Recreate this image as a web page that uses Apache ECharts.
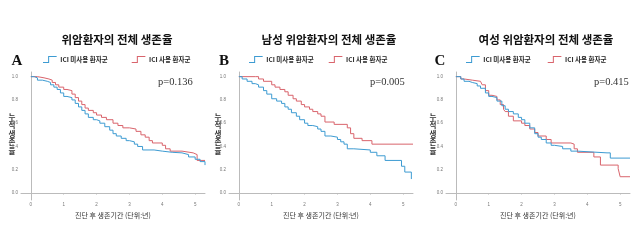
<!DOCTYPE html>
<html>
<head>
<meta charset="utf-8">
<script src="https://cdn.jsdelivr.net/npm/echarts@6/dist/echarts.min.js"></script>
<style>
html, body { margin: 0; padding: 0; background: #fff; }
#main { width: 640px; height: 244px; }
</style>
</head>
<body>
<div id="main"></div>
<script>
// 생존곡선 값 [년, 생존율] - 그림에서 읽은 값
var aNoIci = [[0,1.0],[0.1,0.99],[0.2,0.97],[0.35,0.96],[0.5,0.95],[0.6,0.93],[0.7,0.91],[0.8,0.89],[0.9,0.86],[1.0,0.83],[1.1,0.82],[1.25,0.80],[1.35,0.77],[1.45,0.74],[1.55,0.71],[1.65,0.68],[1.75,0.65],[1.9,0.63],[2.0,0.62],[2.1,0.60],[2.25,0.57],[2.4,0.54],[2.5,0.51],[2.6,0.49],[2.75,0.47],[2.9,0.45],[3.0,0.44],[3.15,0.42],[3.25,0.40],[3.4,0.37],[3.75,0.36],[4.0,0.35],[4.3,0.345],[4.6,0.33],[4.8,0.31],[5.0,0.29],[5.15,0.27],[5.3,0.24]];
var aIci   = [[0,1.0],[0.2,0.99],[0.4,0.98],[0.55,0.97],[0.65,0.95],[0.75,0.93],[0.85,0.91],[1.0,0.89],[1.1,0.88],[1.25,0.85],[1.35,0.82],[1.45,0.79],[1.55,0.76],[1.65,0.73],[1.75,0.71],[1.9,0.69],[2.0,0.67],[2.15,0.65],[2.3,0.63],[2.5,0.60],[2.65,0.58],[2.8,0.56],[3.0,0.55],[3.2,0.53],[3.35,0.50],[3.48,0.48],[3.6,0.45],[3.7,0.43],[4.0,0.41],[4.1,0.38],[4.24,0.36],[4.6,0.345],[4.94,0.33],[5.06,0.28],[5.3,0.28]];

var bNoIci = [[0,1.0],[0.1,0.98],[0.25,0.96],[0.4,0.94],[0.5,0.93],[0.6,0.91],[0.75,0.88],[0.85,0.85],[1.0,0.81],[1.15,0.79],[1.3,0.77],[1.4,0.74],[1.5,0.72],[1.6,0.69],[1.75,0.66],[1.85,0.63],[2.0,0.60],[2.1,0.58],[2.25,0.57],[2.4,0.55],[2.5,0.53],[2.62,0.49],[2.8,0.48],[3.0,0.46],[3.1,0.44],[3.2,0.42],[3.3,0.38],[3.5,0.37],[4.0,0.35],[4.2,0.32],[4.45,0.28],[4.95,0.23],[5.05,0.18],[5.25,0.12]];
var bIci   = [[0,1.0],[0.5,1.0],[0.6,0.98],[0.75,0.96],[1.0,0.93],[1.1,0.91],[1.25,0.89],[1.4,0.87],[1.5,0.84],[1.65,0.81],[1.75,0.79],[1.9,0.76],[2.0,0.74],[2.15,0.72],[2.25,0.70],[2.4,0.68],[2.5,0.66],[2.62,0.61],[2.9,0.59],[3.3,0.56],[3.4,0.51],[3.5,0.47],[3.75,0.45],[4.05,0.42],[5.3,0.42]];

var cNoIci = [[0,1.0],[0.15,0.98],[0.25,0.96],[0.4,0.95],[0.5,0.94],[0.65,0.92],[0.75,0.90],[0.9,0.86],[1.0,0.83],[1.1,0.82],[1.25,0.79],[1.4,0.75],[1.5,0.72],[1.6,0.70],[1.75,0.68],[1.9,0.65],[2.0,0.63],[2.1,0.60],[2.25,0.56],[2.4,0.51],[2.5,0.48],[2.6,0.46],[2.75,0.43],[2.9,0.41],[3.0,0.40],[3.25,0.38],[3.5,0.36],[3.7,0.345],[4.6,0.345],[4.7,0.30],[5.3,0.30]];
var cIci   = [[0,1.0],[0.15,0.98],[0.25,0.97],[0.5,0.96],[0.75,0.96],[0.8,0.93],[0.9,0.88],[1.0,0.84],[1.1,0.83],[1.25,0.80],[1.35,0.76],[1.45,0.72],[1.5,0.70],[1.6,0.66],[1.75,0.62],[2.0,0.60],[2.1,0.58],[2.25,0.55],[2.4,0.52],[2.5,0.49],[2.75,0.46],[2.9,0.43],[3.5,0.42],[3.6,0.38],[3.7,0.35],[4.2,0.31],[4.4,0.24],[4.94,0.21],[5.0,0.14],[5.3,0.14]];

var xTicks = [0, 1, 2, 3, 4, 5];
var yTicks = [0, 0.2, 0.4, 0.6, 0.8, 1.0];
var titles = ['위암환자의 전체 생존율', '남성 위암환자의 전체 생존율', '여성 위암환자의 전체 생존율'];
var letters = ['A', 'B', 'C'];
var pValues = ['p=0.136', 'p=0.005', 'p=0.415'];
var nameNo = 'ICI 미사용 환자군';
var nameYes = 'ICI 사용 환자군';
var yTitle = '누\n적\n생\n존\n율';

var BLUE = '#3d9bd2';
var RED = '#d9646c';
var lefts = [21, 229, 446];
var titleX = [117, 329, 546];
var letterX = [17, 224, 440];
var pX = [158, 370, 594];
var legendX = [43, 249, 466];
var legendGap = [24, 15, 17];
var yTitleX = [12, 218, 433];

var stepIcon = 'path://M0,7L6,7L6,0L16,0L16,1.2L7.2,1.2L7.2,8.2L0,8.2Z';

var grids = [], xAxes = [], yAxes = [], series = [], legends = [], graphics = [];
var curves = [[aNoIci, aIci], [bNoIci, bIci], [cNoIci, cIci]];

for (var i = 0; i < 3; i++) {
  grids.push({ left: lefts[i], top: 72, width: 184, height: 128 });
  xAxes.push({
    gridIndex: i, type: 'value', min: -0.3, max: 5.3,
    name: '진단 후 생존기간 (단위:년)', nameLocation: 'middle', nameGap: 9,
    nameTextStyle: { fontSize: 7, color: '#333', fontFamily: 'Noto Sans CJK KR' },
    axisLine: { lineStyle: { color: '#bbb' } },
    axisTick: { show: true, length: 1.5, customValues: xTicks, lineStyle: { color: '#bbb' } },
    axisLabel: { customValues: xTicks, fontSize: 4.5, color: '#777', margin: 2 },
    splitLine: { show: false }
  });
  yAxes.push({
    gridIndex: i, type: 'value', min: -0.06, max: 1.04,
    axisLine: { show: true, lineStyle: { color: '#bbb' } },
    axisTick: { show: false },
    axisLabel: {
      customValues: yTicks, fontSize: 4.5, color: '#777', margin: 3,
      formatter: function (v) { return v.toFixed(1); }
    },
    splitLine: { show: false }
  });
  series.push({
    name: nameNo, type: 'line', step: 'end', xAxisIndex: i, yAxisIndex: i,
    data: curves[i][0], showSymbol: false, color: BLUE,
    lineStyle: { width: 1, color: BLUE }, z: 3
  });
  series.push({
    name: nameYes, type: 'line', step: 'end', xAxisIndex: i, yAxisIndex: i,
    data: curves[i][1], showSymbol: false, color: RED,
    lineStyle: { width: 1, color: RED }, z: 2
  });
  legends.push({
    left: legendX[i], top: 56, padding: 0, itemGap: legendGap[i],
    itemWidth: 15, itemHeight: 7, icon: stepIcon,
    data: [nameNo, nameYes], selectedMode: false,
    textStyle: { fontSize: 6.5, fontWeight: 'bold', color: '#222', fontFamily: 'Noto Sans CJK KR', padding: [0, 0, 0, -2] }
  });
  graphics.push({
    type: 'text', x: titleX[i], y: 40,
    style: { text: titles[i], fontSize: 11.5, fontWeight: 'bold', fill: '#111', fontFamily: 'Noto Sans CJK KR', align: 'center', verticalAlign: 'middle' }
  });
  graphics.push({
    type: 'text', x: letterX[i], y: 61,
    style: { text: letters[i], fontSize: 15, fontWeight: 'bold', fill: '#111', fontFamily: 'Liberation Serif', align: 'center', verticalAlign: 'middle' }
  });
  graphics.push({
    type: 'text', x: pX[i], y: 82,
    style: { text: pValues[i], fontSize: 10.5, fill: '#333', fontFamily: 'Liberation Serif', align: 'left', verticalAlign: 'middle' }
  });
  graphics.push({
    type: 'text', x: yTitleX[i], y: 134,
    style: { text: yTitle, fontSize: 7.5, lineHeight: 8.5, fontWeight: 'bold', fill: '#333', fontFamily: 'Noto Sans CJK KR', align: 'center', verticalAlign: 'middle' }
  });
}

var myChart = echarts.init(document.getElementById('main'));
var option = {
  backgroundColor: '#fff',
  animation: false,
  grid: grids,
  xAxis: xAxes,
  yAxis: yAxes,
  legend: legends,
  graphic: graphics,
  series: series
};
myChart.setOption(option);
</script>
</body>
</html>
